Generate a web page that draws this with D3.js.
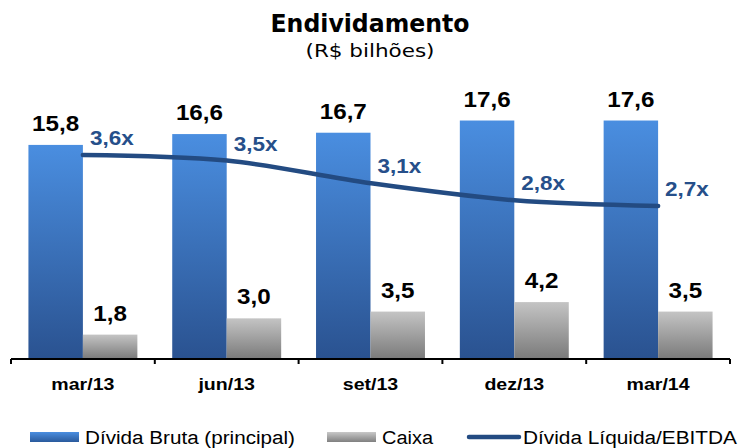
<!DOCTYPE html>
<html>
<head>
<meta charset="utf-8">
<script src="https://cdn.jsdelivr.net/npm/d3@7"></script>
<style>
  body { margin: 0; background: #fff; }
  svg { display: block; }
</style>
</head>
<body>
<div class="stage"></div>
<script>
var categories = ["mar/13", "jun/13", "set/13", "dez/13", "mar/14"];
var dividaBruta = [15.8, 16.6, 16.7, 17.6, 17.6];
var caixa = [1.8, 3.0, 3.5, 4.2, 3.5];
var alavancagem = [3.6, 3.5, 3.1, 2.8, 2.7];
var seriesNames = ["Dívida Bruta (principal)", "Caixa", "Dívida Líquida/EBITDA"];

var W = 739, H = 448;
var svg = d3.select(".stage").append("svg").attr("width", W).attr("height", H);

var defs = svg.append("defs");
function grad(id, c1, c2) {
  var g = defs.append("linearGradient").attr("id", id).attr("x1", 0).attr("y1", 0).attr("x2", 0).attr("y2", 1);
  g.append("stop").attr("offset", "0%").attr("stop-color", c1);
  g.append("stop").attr("offset", "100%").attr("stop-color", c2);
}
grad("gBlue", "#4a8ee0", "#2a5290");
grad("gGray", "#c4c4c4", "#7a7a7a");
grad("gBlueH", "#4a8ee0", "#2a5a9c");
grad("gGrayH", "#c8c8c8", "#808080");

// the original text is a bit wider than the fonts we have
function stretch(sel, k) {
  sel.each(function(){
    var w = this.getComputedTextLength();
    d3.select(this).attr("textLength", w * k).attr("lengthAdjust", "spacingAndGlyphs");
  });
}

var x = d3.scaleBand().domain(categories).range([11, 730]).padding(0);
var x1 = d3.scaleBand().domain(["bruta", "caixa"]).range([0, x.bandwidth()]).paddingInner(0).paddingOuter(0.32);
var y = d3.scaleLinear().domain([0, 20]).range([359, 88]);
var y2 = d3.scaleLinear().domain([0, 5]).range([359, 75.5]);

function fmt(v) { return v.toFixed(1).replace(".", ","); }

// title
svg.append("text").attr("x", 370).attr("y", 32).attr("text-anchor", "middle")
  .style("font-family", "DejaVu Sans").style("font-weight", "bold").style("font-size", "24px")
  .attr("textLength", 199).attr("lengthAdjust", "spacingAndGlyphs")
  .text("Endividamento");
svg.append("text").attr("x", 370).attr("y", 57).attr("text-anchor", "middle")
  .style("font-family", "DejaVu Sans").style("font-size", "18px")
  .attr("textLength", 129).attr("lengthAdjust", "spacingAndGlyphs")
  .text("(R$ bilhões)");

var groups = svg.selectAll("g.cat").data(categories).enter().append("g")
  .attr("class", "cat")
  .attr("transform", function(d){ return "translate(" + x(d) + ",0)"; });

groups.append("rect")
  .attr("x", x1("bruta")).attr("width", x1.bandwidth())
  .attr("y", function(d, i){ return y(dividaBruta[i]); })
  .attr("height", function(d, i){ return y(0) - y(dividaBruta[i]); })
  .attr("fill", "url(#gBlue)");
groups.append("rect")
  .attr("x", x1("caixa")).attr("width", x1.bandwidth())
  .attr("y", function(d, i){ return y(caixa[i]); })
  .attr("height", function(d, i){ return y(0) - y(caixa[i]); })
  .attr("fill", "url(#gGray)");

groups.append("text")
  .attr("x", x1("bruta") + x1.bandwidth() / 2)
  .attr("y", function(d, i){ return y(dividaBruta[i]) - 14; })
  .attr("text-anchor", "middle")
  .style("font-family", "Liberation Sans, Arial").style("font-weight", "bold").style("font-size", "22px")
  .text(function(d, i){ return fmt(dividaBruta[i]); })
  .call(stretch, 1.1);
groups.append("text")
  .attr("x", x1("caixa") + x1.bandwidth() / 2)
  .attr("y", function(d, i){ return y(caixa[i]) - 14; })
  .attr("text-anchor", "middle")
  .style("font-family", "Liberation Sans, Arial").style("font-weight", "bold").style("font-size", "22px")
  .text(function(d, i){ return fmt(caixa[i]); })
  .call(stretch, 1.1);

// axis
svg.append("line").attr("x1", x.range()[0]).attr("x2", x.range()[1])
  .attr("y1", y(0)).attr("y2", y(0)).attr("stroke", "#000").attr("stroke-width", 2);
var edges = categories.map(function(d){ return x(d); }).concat([x.range()[1]]);
svg.selectAll("line.tick").data(edges).enter().append("line")
  .attr("class", "tick")
  .attr("x1", function(d){ return d; }).attr("x2", function(d){ return d; })
  .attr("y1", y(0)).attr("y2", y(0) + 5)
  .attr("stroke", "#000").attr("stroke-width", 2);
groups.append("text")
  .attr("x", x.bandwidth() / 2).attr("y", 390)
  .attr("text-anchor", "middle")
  .style("font-family", "Liberation Sans, Arial").style("font-weight", "bold").style("font-size", "17px")
  .text(function(d){ return d; })
  .call(stretch, 1.15);

// line
var cx = function(i){ return x(categories[i]) + x1("caixa"); };
var line = d3.line()
  .x(function(d, i){ return cx(i); })
  .y(function(d){ return y2(d); })
  .curve(d3.curveCatmullRom.alpha(0.5));
svg.append("path").datum(alavancagem)
  .attr("d", line).attr("fill", "none")
  .attr("stroke", "#234b82").attr("stroke-width", 4.5).attr("stroke-linecap", "round");
svg.selectAll("text.lbl").data(alavancagem).enter().append("text")
  .attr("class", "lbl")
  .attr("x", function(d, i){ return cx(i) + 7; })
  .attr("y", function(d){ return y2(d) - 10; })
  .style("font-family", "Liberation Sans, Arial").style("font-weight", "bold").style("font-size", "21px")
  .attr("fill", "#264f8a")
  .text(function(d){ return fmt(d) + "x"; })
  .call(stretch, 1.07);

// legend
var lg = svg.append("g").style("font-family", "Liberation Sans, Arial").style("font-size", "18px");
lg.append("rect").attr("x", 30).attr("y", 432).attr("width", 49).attr("height", 10).attr("fill", "url(#gBlueH)");
lg.append("text").attr("x", 85).attr("y", 444).attr("textLength", 210).attr("lengthAdjust", "spacingAndGlyphs").text(seriesNames[0]);
lg.append("rect").attr("x", 327).attr("y", 432).attr("width", 49).attr("height", 10).attr("fill", "url(#gGrayH)");
lg.append("text").attr("x", 382).attr("y", 444).attr("textLength", 51).attr("lengthAdjust", "spacingAndGlyphs").text(seriesNames[1]);
lg.append("line").attr("x1", 469).attr("x2", 519).attr("y1", 437).attr("y2", 437)
  .attr("stroke", "#234b82").attr("stroke-width", 4.5).attr("stroke-linecap", "round");
lg.append("text").attr("x", 523).attr("y", 444).attr("textLength", 214).attr("lengthAdjust", "spacingAndGlyphs").text(seriesNames[2]);
</script>
</body>
</html>
